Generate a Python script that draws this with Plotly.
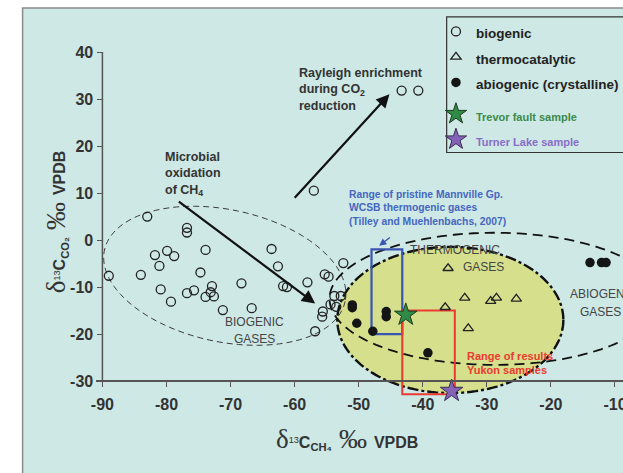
import numpy as np
import plotly.graph_objects as go

# ---------------- data ----------------
bio_x = [-89.0, -84.0, -83.0, -81.8, -81.1, -80.9, -79.9, -79.3, -78.8, -76.8, -76.8, -76.8,
         -75.7, -74.7, -73.9, -73.9, -73.1, -72.9, -72.6, -71.2, -68.3, -66.7, -63.6, -62.6,
         -61.8, -61.2, -58.0, -57.0, -56.8, -55.7, -55.6, -55.3, -54.7, -54.4, -53.8, -53.5,
         -52.8, -52.4, -43.3, -40.7]
bio_y = [-7.6, -7.4, 5.0, -3.2, -5.5, -10.5, -2.3, -13.1, -3.4, 2.6, 1.6, -11.3,
         -10.7, -6.9, -2.1, -12.1, -11.1, -9.8, -12.0, -14.9, -9.2, -14.5, -1.9, -5.6,
         -9.8, -10.0, -9.0, 10.5, -19.4, -16.3, -15.2, -7.3, -7.8, -13.7, -11.9, -14.2,
         -11.9, -4.9, 31.8, 31.8]

thermo_x = [-36.05, -33.45, -29.4, -28.5, -25.4, -36.5, -32.9]
thermo_y = [-6.0, -12.3, -13.0, -12.3, -12.5, -14.3, -18.8]

abio_x = [-51.0, -51.0, -50.3, -47.8, -45.7, -45.7, -39.2, -13.9, -12.1, -11.4]
abio_y = [-13.8, -14.4, -17.7, -19.4, -15.2, -16.3, -24.0, -4.8, -4.8, -4.8]

trevor_x = [-42.65]
trevor_y = [-15.9]
turner_x = [-35.5]
turner_y = [-32.1]

x_ticks = [-90, -80, -70, -60, -50, -40, -30, -20, -10]
x_tick_labels = ["-90", "-80", "-70", "-60", "-50", "-40", "-30", "-20", "-10"]
y_ticks = [-30, -20, -10, 0, 10, 20, 30, 40]
y_tick_labels = ["-30", "-20", "-10", "0", "10", "20", "30", "40"]

# range boxes (data units)
mannville_x = [-48.0, -43.2]
mannville_y = [-20.0, -2.0]
yukon_x = [-43.2, -35.0]
yukon_y = [-32.8, -15.0]

# field ellipses: centre (data), semi-axes (screen px), rotation (deg, screen)
bio_ell = dict(cx=-70.9, cy=-7.6, a=123, b=66, rot=12)
thermo_ell = dict(cx=-35.7, cy=-17.0, a=113, b=73, rot=0)
abio_ell = dict(cx=-28.8, cy=-12.5, a=165, b=66, rot=0)

# ---------------- layout geometry ----------------
W, H = 623, 473
X_RANGE = [-91.0, -8.75]
Y_RANGE = [-33.6, 40.0]
ML, MR, MT, MB = 96.1, 0, 52.3, 75.1
PW = W - ML - MR
PH = H - MT - MB
PX_X = PW / (X_RANGE[1] - X_RANGE[0])
PX_Y = PH / (Y_RANGE[1] - Y_RANGE[0])


def px2paper(px, py):
    return (px - ML) / PW, (H - MB - py) / PH


def ellipse_path(e, n=160):
    t = np.linspace(0, 2 * np.pi, n)
    th = np.deg2rad(e["rot"])
    dx = e["a"] * np.cos(t) * np.cos(th) - e["b"] * np.sin(t) * np.sin(th)
    dy = e["a"] * np.cos(t) * np.sin(th) + e["b"] * np.sin(t) * np.cos(th)
    xs = e["cx"] + dx / PX_X
    ys = e["cy"] - dy / PX_Y
    pts = " L ".join(f"{x:.3f},{y:.3f}" for x, y in zip(xs, ys))
    return "M " + pts + " Z"


BG = "#cde8e5"
TXT = "#333333"
FONT = "Liberation Sans"

fig = go.Figure()

fig.add_trace(go.Scatter(
    x=bio_x, y=bio_y, mode="markers", legendgroup="a",
    name="<span style='font-size:13.5px'><b>biogenic</b></span>",
    marker=dict(symbol="circle-open", size=9, color="#222", line=dict(width=1.3))))
fig.add_trace(go.Scatter(
    x=thermo_x, y=thermo_y, mode="markers", legendgroup="a",
    name="<span style='font-size:13.5px'><b>thermocatalytic</b></span>",
    marker=dict(symbol="triangle-up-open", size=9, color="#222", line=dict(width=1.3))))
fig.add_trace(go.Scatter(
    x=abio_x, y=abio_y, mode="markers", legendgroup="a",
    name="<span style='font-size:13.5px'><b>abiogenic (crystalline)</b></span>",
    marker=dict(symbol="circle", size=9.5, color="#151515")))
fig.add_trace(go.Scatter(
    x=trevor_x, y=trevor_y, mode="markers", legendgroup="b",
    name="<span style='font-size:11px;color:#3c8a48'><b>Trevor fault sample</b></span>",
    marker=dict(symbol="star", size=17, color="#2f8a45", line=dict(color="#1e3d22", width=1))))
fig.add_trace(go.Scatter(
    x=turner_x, y=turner_y, mode="markers", legendgroup="b", cliponaxis=False,
    name="<span style='font-size:11px;color:#8a6cc8'><b>Turner Lake sample</b></span>",
    marker=dict(symbol="star", size=17, color="#8462b8", line=dict(color="#3a2e50", width=1))))

shapes = []
# background frame
bx0, by1 = px2paper(22.7, 8.3)
shapes.append(dict(type="rect", xref="paper", yref="paper", x0=bx0, x1=1.05, y0=-0.3, y1=by1,
                   fillcolor=BG, line=dict(color="#8a8a8a", width=1.5), layer="below"))
# thermogenic field (filled)
shapes.append(dict(type="path", xref="x", yref="y", path=ellipse_path(thermo_ell),
                   fillcolor="#d6e08c", line=dict(color="#111", width=2.4, dash="11px,3px,3px,3px"),
                   layer="below"))
# biogenic field
shapes.append(dict(type="path", xref="x", yref="y", path=ellipse_path(bio_ell),
                   line=dict(color="#3a3a3a", width=1, dash="6px,4px"), layer="below"))
# abiogenic field
shapes.append(dict(type="path", xref="x", yref="y", path=ellipse_path(abio_ell),
                   line=dict(color="#111", width=1.8, dash="10px,6px"), layer="below"))
# range boxes
shapes.append(dict(type="rect", xref="x", yref="y", x0=mannville_x[0], x1=mannville_x[1],
                   y0=mannville_y[0], y1=mannville_y[1], line=dict(color="#3a55b0", width=2.2),
                   layer="below"))
shapes.append(dict(type="rect", xref="x", yref="y", x0=yukon_x[0], x1=yukon_x[1],
                   y0=yukon_y[0], y1=yukon_y[1], line=dict(color="#ec3a30", width=2),
                   layer="below"))
# y axis line from -30 to 40
shapes.append(dict(type="line", xref="x", yref="y", x0=x_ticks[0], x1=x_ticks[0],
                   y0=y_ticks[0], y1=y_ticks[-1], line=dict(color="#555", width=1.5)))
# legend frame
lx0, ly0 = px2paper(446.7, 152.7)
_, ly1 = px2paper(446.7, 17.3)
shapes.append(dict(type="rect", xref="paper", yref="paper", x0=lx0, x1=1.2, y0=ly0, y1=ly1,
                   line=dict(color="#333", width=1.2), fillcolor="rgba(0,0,0,0)"))

ann = []


def label(x, y, text, size, color=TXT, bold=True, xanchor="left", family=FONT):
    t = f"<b>{text}</b>" if bold else text
    ann.append(dict(x=x, y=y, xref="x", yref="y", text=t, showarrow=False, xanchor=xanchor,
                    yanchor="middle", align="left" if xanchor == "left" else "center",
                    font=dict(family=family, size=size, color=color)))


label(-59.7, 32.0, "Rayleigh enrichment<br>during CO<sub>2</sub><br>reduction", 12.5)
label(-80.6, 14.0, "Microbial<br>oxidation<br>of CH<sub>4</sub>", 12.5)
label(-51.9, 6.8, "Range of pristine Mannville Gp.<br>WCSB thermogenic gases<br>"
      "(Tilley and Muehlenbachs, 2007)", 10.3, color="#4566c2")
label(-35.0, -2.1, "THERMOGENIC", 12, color="#444", bold=False, xanchor="center")
label(-30.6, -5.7, "GASES", 12, color="#444", bold=False, xanchor="center")
label(-17.4, -11.5, "ABIOGENIC", 12, color="#444", bold=False)
label(-12.2, -15.2, "GASES", 12, color="#444", bold=False, xanchor="center")
label(-66.25, -17.5, "BIOGENIC", 12, color="#444", bold=False, xanchor="center")
label(-66.25, -21.1, "GASES", 12, color="#444", bold=False, xanchor="center")
label(-33.45, -26.2, "Range of results<br>Yukon samples", 11, color="#ec3a30")


def arrow(x0, y0, x1, y1, color="#111", width=2.2, size=1.2):
    ann.append(dict(x=x1, y=y1, ax=x0, ay=y0, xref="x", yref="y", axref="x", ayref="y",
                    text="", showarrow=True, arrowhead=2, arrowsize=size, arrowwidth=width,
                    arrowcolor=color, standoff=0))


arrow(-60.2, 8.7, -45.2, 31.0)
arrow(-78.3, 8.4, -56.8, -13.5)
arrow(-44.9, 0.8, -46.8, -1.2, color="#3a55b0", width=1.3, size=1.1)

# axis titles
serif = "Liberation Serif"
xt_x, xt_y = px2paper(347, 438)
ann.append(dict(x=xt_x, y=xt_y, xref="paper", yref="paper", showarrow=False,
                xanchor="center", yanchor="middle",
                text=(f"<span style='font-family:{serif};font-size:27px'>δ</span>"
                      "<span style='font-size:13px'><sup>13</sup></span>"
                      "<b>C<sub>CH₄</sub></b>"
                      f"<span style='font-family:{serif};font-size:28px'> ‰ </span>"
                      "<b>VPDB</b>"),
                font=dict(family=FONT, size=16, color=TXT)))
yt_x, yt_y = px2paper(56.5, 222)
ann.append(dict(x=yt_x, y=yt_y, xref="paper", yref="paper", showarrow=False, textangle=-90,
                xanchor="center", yanchor="middle",
                text=(f"<span style='font-family:{serif};font-size:27px'>δ</span>"
                      "<span style='font-size:13px'><sup>13</sup></span>"
                      "<b>C<sub>CO₂</sub></b>"
                      f"<span style='font-family:{serif};font-size:28px'> ‰ </span>"
                      "<b>VPDB</b>"),
                font=dict(family=FONT, size=16, color=TXT)))

legx, legy = px2paper(436.0, 14.0)

fig.update_layout(
    width=W, height=H,
    margin=dict(l=ML, r=MR, t=MT, b=MB, autoexpand=False),
    paper_bgcolor="white", plot_bgcolor="rgba(0,0,0,0)",
    font=dict(family=FONT, color=TXT),
    shapes=shapes, annotations=ann,
    showlegend=True,
    legend=dict(x=legx, y=legy, xanchor="left", yanchor="top", bgcolor="rgba(0,0,0,0)",
                borderwidth=0, font=dict(family=FONT, size=17.3, color="#222"),
                tracegroupgap=6, traceorder="grouped", itemsizing="trace"),
    xaxis=dict(range=X_RANGE, anchor="free", position=(y_ticks[0] - Y_RANGE[0]) / (Y_RANGE[1] - Y_RANGE[0]),
               tickvals=x_ticks, ticktext=x_tick_labels, ticks="outside", ticklen=5, tickwidth=1.2,
               tickcolor="#555", ticklabelstandoff=4, ticklabeloverflow="allow",
               showline=True, linecolor="#555", linewidth=1.5, showgrid=False, zeroline=False,
               tickfont=dict(family=FONT, size=16, color=TXT, weight="bold")),
    yaxis=dict(range=Y_RANGE, anchor="free", position=(x_ticks[0] - X_RANGE[0]) / (X_RANGE[1] - X_RANGE[0]),
               tickvals=y_ticks, ticktext=y_tick_labels, ticks="outside", ticklen=5, tickwidth=1.2,
               tickcolor="#555", ticklabelstandoff=1, ticklabeloverflow="allow",
               showline=False, showgrid=False, zeroline=False,
               tickfont=dict(family=FONT, size=16, color=TXT, weight="bold")),
)

fig.write_html("out.html", config={"displayModeBar": False},
               post_script="document.body.style.margin='0';document.body.style.overflow='hidden';")
